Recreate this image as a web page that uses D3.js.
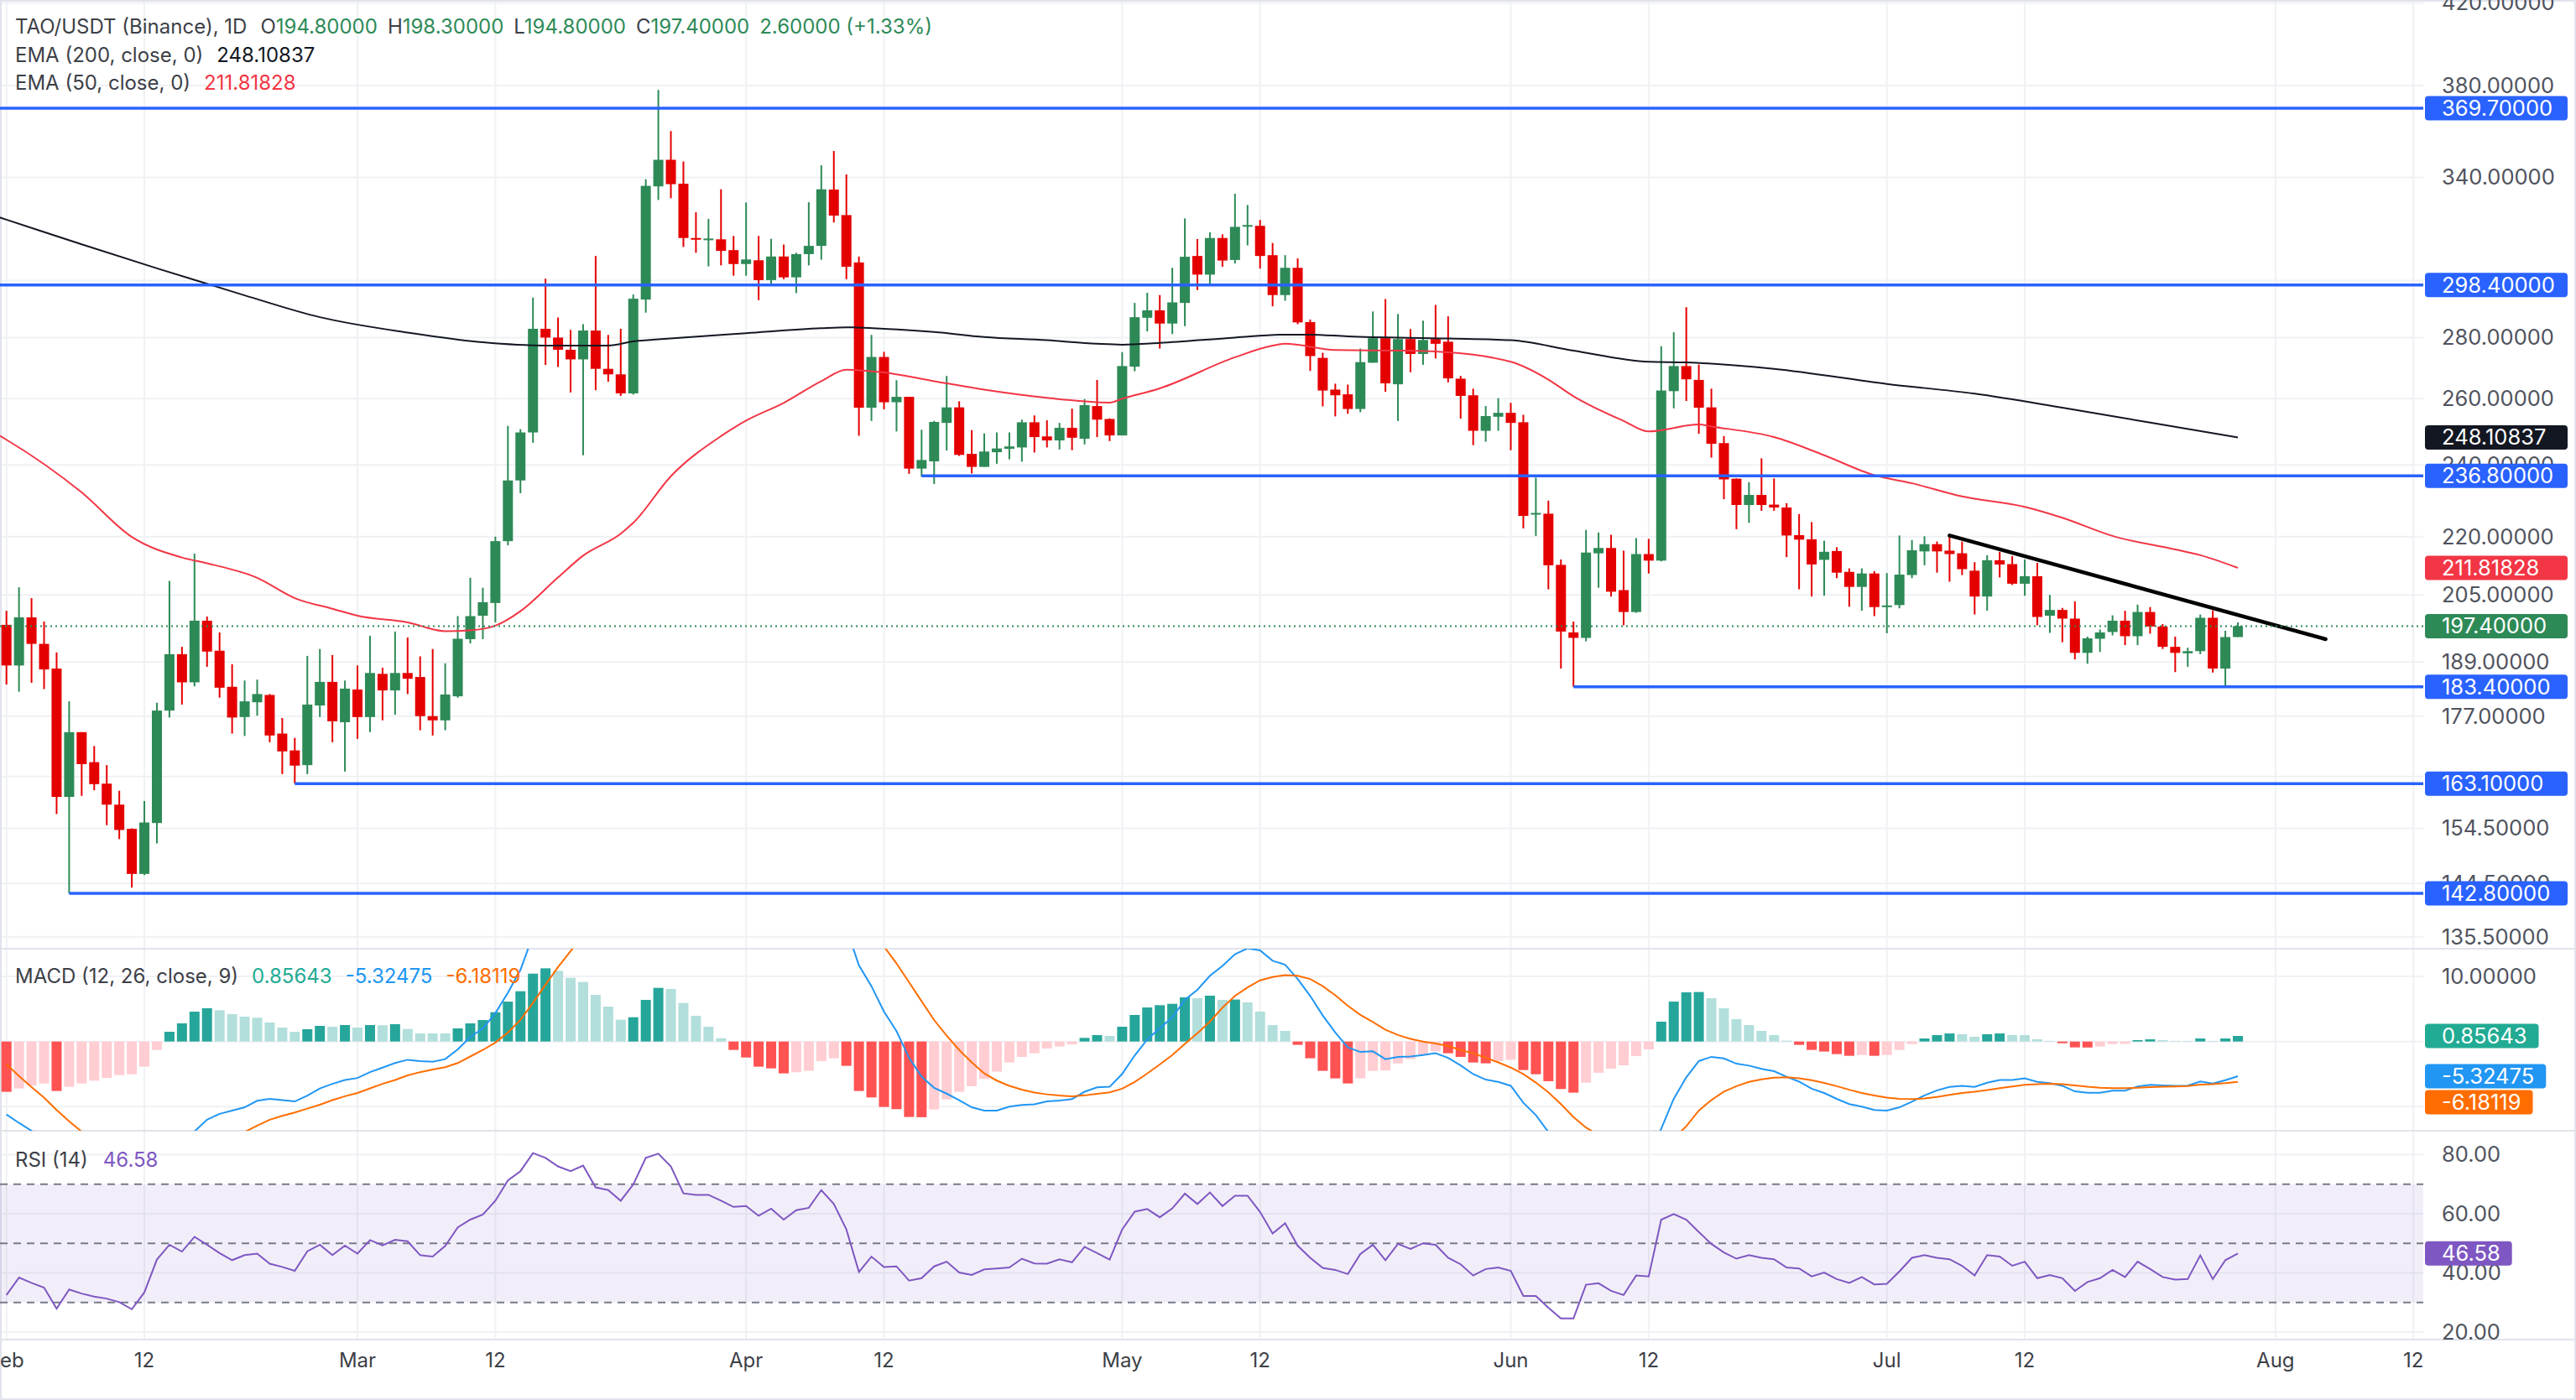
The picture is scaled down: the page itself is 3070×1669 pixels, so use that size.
<!DOCTYPE html>
<html>
<head>
<meta charset="utf-8">
<script src="https://d3js.org/d3.v7.min.js"></script>
<style>
  html, body { margin: 0; padding: 0; background: #fff; }
  svg { display: block; font-family: Inter, "Noto Sans", sans-serif; }
</style>
</head>
<body>
<svg id="chart" width="3070" height="1669"></svg>
<script>
// daily candles from 2025-02-01 to 2025-07-29
const firstDay = "2025-02-01";

const opens = [
  197.7,188.2,199.5,193.2,187.5,160.5,173.6,167.4,163.1,159.0,
  154.4,146.2,155.5,178.2,190.8,184.4,198.7,191.6,183.4,176.8,
  180.0,181.6,173.3,169.8,166.8,179.3,184.5,175.7,182.8,176.8,
  186.3,182.6,186.5,185.6,177.0,176.1,181.3,194.3,199.9,203.0,
  218.8,235.5,249.6,283.0,280.0,275.9,272.7,282.4,269.6,267.8,
  261.7,293.2,336.3,347.3,337.4,315.9,315.4,315.4,311.3,306.1,
  307.5,300.2,308.9,301.2,309.8,312.9,335.0,324.8,306.7,257.2,
  273.5,258.9,260.6,238.9,241.0,252.5,257.3,243.2,239.4,243.7,
  244.7,245.1,252.7,248.4,247.2,251.0,247.7,257.7,253.7,248.7,
  270.3,286.8,289.4,284.8,292.0,309.1,302.2,315.9,307.6,320.5,
  320.6,309.4,294.8,304.7,285.3,273.2,262.9,261.4,256.8,271.6,
  279.8,264.6,279.5,274.5,279.5,278.6,266.4,261.1,250.1,254.4,
  255.6,252.7,226.0,226.2,212.6,195.9,194.6,215.6,217.0,206.2,
  200.8,215.4,213.7,262.4,270.5,266.0,257.3,246.4,236.0,228.6,
  231.4,228.7,227.9,220.4,219.3,213.9,216.2,210.8,207.0,210.4,
  202.2,202.5,210.0,216.1,218.0,216.3,215.6,211.1,204.6,213.8,
  212.8,207.8,209.7,199.9,201.3,199.2,191.1,194.4,196.0,198.7,
  195.0,200.8,197.3,192.5,191.0,191.5,199.4,187.5,194.8
];
const highs = [
  201.1,206.9,204.2,198.5,191.2,180.2,173.6,170.7,166.8,161.7,
  154.5,159.7,179.9,208.5,192.5,215.5,199.7,195.9,188.5,184.8,
  185.0,181.8,176.6,172.4,190.4,192.0,190.6,184.8,188.2,195.1,
  187.7,196.1,194.7,190.3,192.0,188.7,199.8,209.3,206.8,220.0,
  251.6,250.6,293.9,300.7,286.9,282.6,284.6,309.1,280.9,283.0,
  295.0,339.2,378.0,359.6,346.6,325.9,323.3,335.1,316.7,329.8,
  316.7,315.6,313.4,310.3,329.9,345.0,351.0,341.2,308.9,280.9,
  275.2,265.9,260.6,250.4,253.1,267.3,259.2,250.3,249.3,249.6,
  249.6,253.5,254.8,253.3,252.5,256.9,259.9,266.0,253.9,275.1,
  292.0,295.6,294.8,304.7,323.5,315.5,318.1,317.3,333.3,328.8,
  322.9,314.0,309.4,308.2,286.2,274.9,264.8,264.5,276.3,289.0,
  293.4,288.1,282.9,285.8,291.3,287.3,267.3,263.2,257.7,260.2,
  258.7,255.0,236.3,229.8,214.0,198.5,221.8,221.1,220.5,216.3,
  219.6,219.4,277.1,281.8,290.5,271.0,263.2,248.5,236.1,235.0,
  241.9,236.1,229.1,226.1,223.9,218.9,217.2,211.7,211.7,211.0,
  210.5,220.3,219.1,220.1,218.7,220.3,218.7,213.3,215.1,216.0,
  214.9,214.0,213.1,205.0,201.8,203.4,194.9,196.6,200.0,201.1,
  202.6,202.0,197.9,194.9,192.3,200.2,201.2,196.3,198.3
];
const lows = [
  183.9,182.3,184.3,182.9,157.2,142.8,160.7,161.8,155.1,152.5,
  143.8,146.0,151.7,176.7,179.5,183.5,187.9,181.0,173.3,172.8,
  177.1,171.5,165.0,163.1,165.0,176.8,171.5,165.5,172.2,173.6,
  176.1,177.3,181.8,174.0,172.9,174.0,181.0,193.3,194.3,198.3,
  217.7,231.9,246.5,270.9,270.2,262.0,242.8,262.7,265.4,260.9,
  261.3,288.6,330.8,331.5,312.5,310.3,305.2,305.6,301.8,301.8,
  293.0,298.9,300.5,295.5,305.6,307.7,321.9,300.5,248.6,253.1,
  256.7,249.9,237.4,236.6,234.5,244.2,242.6,237.5,239.4,240.3,
  241.6,240.9,243.6,245.1,244.5,244.3,246.0,248.2,247.0,248.7,
  268.8,282.1,276.3,281.2,283.9,296.6,298.7,305.1,306.3,313.1,
  304.4,290.8,292.8,284.6,268.9,257.6,254.5,255.3,255.8,271.6,
  262.2,253.1,268.5,270.9,273.0,265.2,253.8,245.8,246.8,250.1,
  244.3,222.2,220.2,206.4,187.5,183.4,193.8,206.8,204.6,197.6,
  200.6,210.4,213.5,257.0,259.3,249.2,242.1,230.2,222.0,223.7,
  227.0,227.0,214.6,206.4,204.6,204.8,209.2,202.1,201.1,199.8,
  195.7,201.7,209.2,212.5,210.6,208.3,210.0,200.2,201.1,209.4,
  207.5,204.8,197.6,195.8,193.6,189.6,188.6,191.3,195.2,192.9,
  192.9,195.6,192.0,186.7,187.9,190.8,186.6,183.4,194.8
];
const closes = [
  188.2,199.5,193.2,187.3,160.5,173.6,167.0,163.0,159.0,154.2,
  146.2,155.6,178.2,190.8,184.4,198.7,191.4,183.2,176.7,180.2,
  181.8,172.9,169.6,166.7,179.5,184.5,175.9,183.0,176.8,186.5,
  182.6,186.5,185.2,177.0,176.1,181.7,194.4,199.8,203.2,218.8,
  235.5,249.6,283.0,280.0,275.9,272.7,282.4,269.6,267.8,261.7,
  293.5,336.5,347.3,337.2,315.9,315.5,315.7,311.0,306.1,307.8,
  300.2,308.9,301.2,309.8,312.9,335.1,324.6,305.1,257.2,273.5,
  258.9,260.6,238.9,241.4,252.8,257.3,242.9,239.4,243.9,244.8,
  245.4,252.7,248.2,247.2,251.0,248.0,258.0,253.5,248.7,270.5,
  287.0,289.4,284.8,292.2,308.8,302.2,315.9,307.4,320.2,320.9,
  309.1,294.8,304.7,285.2,273.8,262.6,261.1,256.8,271.8,279.8,
  264.9,279.5,274.5,279.2,277.9,266.5,260.9,250.1,254.6,255.6,
  252.5,225.6,226.4,212.5,196.1,194.6,215.8,217.0,205.8,200.8,
  215.4,213.7,262.6,270.5,266.2,257.2,246.2,235.8,228.6,231.4,
  228.6,227.9,220.3,219.2,212.7,216.0,210.6,207.0,210.4,202.0,
  202.4,210.1,216.4,218.0,216.1,215.4,211.5,204.6,213.8,212.7,
  207.8,209.7,199.6,201.3,199.2,191.1,194.5,195.9,198.7,195.0,
  200.8,197.3,192.5,191.1,191.5,199.4,187.5,194.8,197.4
];

// EMA lines at a set of dates
const ema200Dates = ["2025-01-31","2025-02-01","2025-02-07","2025-02-13","2025-02-20","2025-02-26","2025-03-05","2025-03-11","2025-03-16","2025-03-21","2025-03-23","2025-03-25","2025-04-01","2025-04-07","2025-04-09","2025-04-12","2025-04-16","2025-04-20","2025-04-25","2025-04-29","2025-05-01","2025-05-04","2025-05-10","2025-05-14","2025-05-16","2025-05-19","2025-05-27","2025-06-01","2025-06-06","2025-06-12","2025-06-15","2025-06-22","2025-07-01","2025-07-08","2025-07-15","2025-07-22","2025-07-29"];
const ema200Values = [324.6,323.0,313.5,304.5,294.7,287.0,281.7,278.4,277.3,277.3,278.7,279.4,281.5,283.2,283.5,283.0,281.9,280.2,279.1,277.9,277.6,278.2,280.0,281.0,281.0,280.4,279.7,279.1,275.6,271.9,271.7,269.6,264.7,261.6,257.2,252.6,248.10837];

const ema50Dates = ["2025-01-31","2025-02-01","2025-02-07","2025-02-11","2025-02-15","2025-02-17","2025-02-21","2025-02-24","2025-02-27","2025-03-01","2025-03-05","2025-03-08","2025-03-10","2025-03-12","2025-03-14","2025-03-17","2025-03-19","2025-03-22","2025-03-23","2025-03-26","2025-03-30","2025-04-01","2025-04-04","2025-04-07","2025-04-09","2025-04-12","2025-04-16","2025-04-20","2025-04-25","2025-04-30","2025-05-01","2025-05-04","2025-05-10","2025-05-13","2025-05-14","2025-05-18","2025-05-24","2025-05-26","2025-06-01","2025-06-04","2025-06-06","2025-06-10","2025-06-12","2025-06-16","2025-06-17","2025-06-22","2025-06-26","2025-06-30","2025-07-03","2025-07-07","2025-07-12","2025-07-15","2025-07-19","2025-07-24","2025-07-26","2025-07-29"];
const ema50Values = [249.6,247.4,232.1,219.9,214.5,213.0,209.3,204.2,201.6,199.9,198.3,196.2,196.4,197.5,201.0,209.4,215.0,220.8,223.7,236.7,248.5,253.2,258.7,265.6,269.3,268.4,265.6,262.9,260.3,258.8,260.0,263.3,273.4,277.3,277.9,275.8,275.6,275.3,271.9,266.1,260.8,253.1,249.9,252.0,251.4,248.2,242.8,237.0,234.7,231.0,228.1,225.1,220.2,216.6,215.1,211.81828];

// drawn support / resistance levels and where each one starts
const levelValues = [369.7, 298.4, 236.8, 183.4, 163.1, 142.8];
const levelStarts = [null, null, "2025-04-15", "2025-06-06", "2025-02-24", "2025-02-06"];

// falling trend line
const trendDates = ["2025-07-06", "2025-08-05"];
const trendValues = [220.3, 194.3];

// MACD (12, 26, 9)
const macdHist = [
  -7.72,-7.21,-6.74,-6.44,-7.59,-6.95,-6.44,-6.01,-5.58,-5.15,
  -5.02,-3.86,-1.29,1.50,2.79,4.59,5.11,4.80,4.20,3.82,
  3.65,2.92,2.14,1.50,1.89,2.40,2.27,2.53,2.14,2.53,
  2.50,2.66,1.93,1.24,1.24,1.24,2.02,2.79,3.30,4.50,
  6.13,7.72,10.42,11.24,10.85,9.78,9.14,7.16,5.36,3.35,
  3.73,6.39,8.24,8.07,5.92,3.95,2.27,0.51,-1.29,-2.45,
  -3.86,-4.12,-4.89,-4.72,-4.50,-3.00,-2.57,-3.73,-7.59,-8.58,
  -10.04,-10.38,-11.58,-11.62,-10.42,-8.88,-7.72,-6.86,-5.75,-4.63,
  -3.22,-2.36,-1.80,-1.07,-0.77,-0.43,0.56,0.99,0.86,2.27,
  4.08,5.23,5.58,5.79,6.78,6.65,7.04,6.39,6.45,6.01,
  4.59,2.53,1.63,-0.51,-2.57,-4.50,-5.66,-6.44,-5.66,-4.50,
  -4.45,-3.35,-2.70,-2.06,-1.50,-1.80,-2.36,-3.22,-3.35,-3.00,
  -2.80,-4.38,-5.02,-6.09,-7.29,-7.85,-6.31,-4.80,-4.16,-3.65,
  -2.23,-1.20,3.05,6.13,7.55,7.60,6.65,5.11,3.43,2.53,
  1.63,0.99,0.13,-0.51,-1.29,-1.54,-1.93,-2.19,-2.06,-2.19,
  -2.06,-1.29,-0.39,0.47,0.99,1.24,1.12,0.73,1.12,1.24,
  0.99,0.99,0.34,0.09,-0.26,-0.90,-0.92,-0.77,-0.39,-0.36,
  0.21,0.34,0.21,0.09,0.09,0.47,0.09,0.47,0.85643
];
const macdLine = [
  -11.2,-12.5,-13.7,-15.0,-18.1,-19.2,-20.3,-21.4,-22.3,-23.2,
  -24.3,-24.1,-21.9,-18.7,-16.7,-13.8,-12.0,-11.1,-10.6,-10.1,
  -9.1,-8.8,-9.0,-9.2,-8.3,-7.2,-6.5,-5.9,-5.6,-4.7,
  -4.0,-3.3,-2.8,-3.0,-3.1,-2.7,-1.2,0.7,2.0,4.35,
  7.5,11.0,16.3,20.0,22.3,23.7,25.3,25.1,24.7,23.5,
  24.8,29.1,33.0,34.8,34.2,33.2,32.1,30.4,28.3,26.5,
  24.2,22.9,20.9,19.9,19.0,19.7,19.5,17.4,11.7,8.5,
  4.6,1.6,-2.5,-5.4,-7.1,-8.0,-9.0,-10.1,-10.6,-10.6,
  -10.0,-9.75,-9.64,-9.18,-9.07,-8.84,-7.71,-7.03,-6.95,-4.97,
  -2.14,0.32,2.06,3.72,6.41,7.94,10.09,11.6,13.4,14.3,
  14.0,12.4,11.8,9.6,7.0,4.0,1.4,-0.9,-1.6,-1.5,
  -2.7,-2.35,-2.3,-2.06,-1.8,-2.5,-3.66,-5.0,-5.85,-6.2,
  -6.8,-9.4,-11.3,-13.9,-16.9,-19.4,-19.5,-19.2,-19.6,-20.0,
  -19.1,-18.4,-13.4,-8.8,-5.5,-3.0,-2.35,-2.6,-3.4,-3.7,
  -4.2,-4.56,-5.4,-6.16,-7.24,-7.9,-8.8,-9.6,-10.0,-10.5,
  -10.6,-10.1,-9.24,-8.28,-7.5,-6.96,-6.8,-6.97,-6.33,-5.9,
  -5.9,-5.66,-6.2,-6.4,-6.8,-7.65,-7.87,-7.87,-7.54,-7.54,
  -6.9,-6.66,-6.74,-6.8,-6.76,-6.13,-6.46,-5.93,-5.32475
];
const signalLine = [
  -3.5,-5.3,-6.99,-8.6,-10.5,-12.24,-13.85,-15.35,-16.75,-18.04,
  -19.29,-20.26,-20.58,-20.21,-19.51,-18.36,-17.08,-15.88,-14.83,-13.88,
  -12.9,-12.0,-11.4,-10.9,-10.3,-9.7,-9.0,-8.4,-7.9,-7.2,
  -6.5,-5.9,-5.2,-4.7,-4.3,-3.95,-3.3,-2.3,-1.3,-0.15,
  1.38,3.31,5.92,8.73,11.44,13.89,16.17,17.96,19.30,20.14,
  21.07,22.67,24.73,26.75,28.23,29.22,29.79,29.92,29.60,28.99,
  28.02,26.99,25.77,24.59,23.46,22.71,22.07,21.14,19.24,17.10,
  14.59,11.99,9.10,6.19,3.3,0.9,-1.3,-3.2,-4.9,-6.0,
  -6.8,-7.39,-7.84,-8.11,-8.30,-8.41,-8.27,-8.02,-7.81,-7.24,
  -6.22,-4.91,-3.52,-2.07,-0.37,1.29,3.05,5.2,7.0,8.3,
  9.4,9.9,10.2,10.1,9.6,8.5,7.1,5.5,4.1,3.0,
  1.8,1.0,0.4,0.0,-0.3,-0.7,-1.3,-1.8,-2.5,-3.2,
  -4.0,-5.0,-6.3,-7.8,-9.6,-11.6,-13.2,-14.4,-15.4,-16.3,
  -16.9,-17.2,-16.4,-14.9,-13.0,-10.6,-9.0,-7.7,-6.85,-6.2,
  -5.8,-5.55,-5.5,-5.65,-5.95,-6.35,-6.85,-7.4,-7.9,-8.3,
  -8.6,-8.8,-8.85,-8.75,-8.5,-8.2,-7.9,-7.7,-7.45,-7.15,
  -6.9,-6.65,-6.55,-6.5,-6.55,-6.75,-6.95,-7.1,-7.15,-7.15,
  -7.1,-7.0,-6.95,-6.9,-6.85,-6.6,-6.55,-6.4,-6.18119
];

// RSI (14)
const rsiValues = [
  32.5,38.4,36.6,35.0,27.9,34.4,33.0,32.0,31.3,30.1,
  27.7,33.4,44.5,49.5,47.2,52.2,49.5,46.7,44.3,46.0,
  46.5,43.1,42.0,40.7,47.3,49.5,46.0,49.2,46.5,51.1,
  49.3,51.2,50.7,46.0,45.5,49.1,55.4,58.0,59.7,64.4,
  71.3,74.4,80.5,78.9,76.0,74.4,76.3,68.9,68.0,64.4,
  69.9,78.9,80.3,76.0,66.9,66.4,66.4,64.4,62.3,62.6,
  59.3,61.7,58.0,61.2,62.0,68.0,63.3,54.7,40.3,45.5,
  42.0,42.2,37.4,38.2,42.2,43.8,40.1,39.3,41.2,41.5,
  41.8,44.8,43.2,43.1,44.6,43.6,48.8,46.7,44.5,54.7,
  60.7,61.6,58.8,61.8,66.8,63.3,67.2,62.6,66.1,66.1,
  60.6,53.3,56.8,49.2,45.1,41.7,41.0,39.6,46.4,49.5,
  44.3,49.8,48.1,50.0,49.5,45.1,42.9,39.1,41.3,41.8,
  40.7,32.2,32.2,28.2,24.6,24.6,36.0,36.5,33.9,32.5,
  39.1,38.8,58.0,59.9,58.0,53.8,49.8,46.9,44.8,46.0,
  45.1,44.6,41.8,41.5,38.8,40.1,37.9,36.6,38.6,36.1,
  36.3,40.5,45.1,46.0,45.1,44.6,42.4,39.1,46.0,45.5,
  42.4,43.8,38.2,39.3,38.2,33.9,36.9,38.2,41.0,38.6,
  43.8,41.3,38.6,37.7,37.9,45.9,37.9,44.3,46.58
];

// axis ticks
const priceGrid = [420, 380, 340, 300, 280, 260, 240, 220, 205, 189, 177, 164.5, 154.5, 144.5, 135.5];
const priceTickLabels = [420, 380, 340, 280, 260, 240, 220, 205, 189, 177, 154.5, 144.5, 135.5];
const macdGrid = [10, 0, -10];
const macdTickLabels = [10];
const rsiGrid = [80, 60, 40, 20];
const rsiBands = [70, 50, 30];
const dateTicks = ["2025-02-01","2025-02-12","2025-03-01","2025-03-12","2025-04-01","2025-04-12","2025-05-01","2025-05-12","2025-06-01","2025-06-12","2025-07-01","2025-07-12","2025-08-01","2025-08-12"];
const dateTickLabels = ["Feb","12","Mar","12","Apr","12","May","12","Jun","12","Jul","12","Aug","12"];

// ---------------------------------------------------------------
const parse = d3.utcParse("%Y-%m-%d");
const start = parse(firstDay);
const candles = closes.map((c, i) => ({
  date: d3.utcDay.offset(start, i),
  o: opens[i], h: highs[i], l: lows[i], c: c
}));

const svg = d3.select("#chart");
const W = 3070, H = 1669;
const plotRight = 2888;
const axisX = 2890;

const GREEN = "#2d8a57", RED = "#e50000", BLUE = "#2962ff";
const GRID = "#f0f1f4";
const TEXT = "#3d3f47";

const x = d3.scaleUtc()
  .domain([parse("2025-02-01"), parse("2025-08-12")])
  .range([7.7, 2876.2]);
const y = d3.scaleLog().domain([142.8, 369.7]).range([1065, 129]);
const yMacd = d3.scaleLinear().domain([-10, 10]).range([1319.3, 1164]);
const yRsi = d3.scaleLinear().domain([30, 70]).range([1552.7, 1411.7]);

const mainTop = 0, mainBottom = 1131, macdBottom = 1348, rsiBottom = 1597;

svg.append("rect").attr("width", W).attr("height", H).attr("fill", "#fff");

const defs = svg.append("defs");
function clip(id, y0, y1) {
  defs.append("clipPath").attr("id", id)
    .append("rect").attr("x", 0).attr("y", y0).attr("width", plotRight).attr("height", y1 - y0);
}
clip("clipMain", mainTop, mainBottom);
clip("clipMacd", mainBottom, macdBottom);
clip("clipRsi", macdBottom, rsiBottom);

// grid
const grid = svg.append("g").attr("stroke", GRID).attr("stroke-width", 2);
grid.selectAll(".vg").data(dateTicks).join("line")
  .attr("x1", d => x(parse(d))).attr("x2", d => x(parse(d)))
  .attr("y1", 0).attr("y2", rsiBottom);
grid.selectAll(".pg").data(priceGrid).join("line")
  .attr("x1", 0).attr("x2", plotRight).attr("y1", d => y(d)).attr("y2", d => y(d));
grid.selectAll(".mg").data(macdGrid).join("line")
  .attr("x1", 0).attr("x2", plotRight).attr("y1", d => yMacd(d)).attr("y2", d => yMacd(d));
grid.selectAll(".rg").data(rsiGrid).join("line")
  .attr("x1", 0).attr("x2", plotRight).attr("y1", d => yRsi(d)).attr("y2", d => yRsi(d));

// panel separators and frame
svg.append("g").attr("stroke", "#e0e3eb").attr("stroke-width", 2)
  .selectAll("line").data([mainBottom, macdBottom, rsiBottom]).join("line")
  .attr("x1", 0).attr("x2", W).attr("y1", d => d).attr("y2", d => d);
svg.append("rect").attr("x", 1).attr("y", 1).attr("width", W - 2).attr("height", H - 2)
  .attr("fill", "none").attr("stroke", "#e0e3eb").attr("stroke-width", 2);

// ---------------- main panel
const main = svg.append("g").attr("clip-path", "url(#clipMain)");

const cw = 12;
const cg = main.append("g").selectAll("g").data(candles).join("g")
  .attr("fill", d => d.c >= d.o ? GREEN : RED);
cg.append("rect")
  .attr("x", d => x(d.date) - 1).attr("width", 2)
  .attr("y", d => y(d.h)).attr("height", d => Math.max(1, y(d.l) - y(d.h)));
cg.append("rect")
  .attr("x", d => x(d.date) - cw / 2).attr("width", cw)
  .attr("y", d => y(Math.max(d.o, d.c)))
  .attr("height", d => Math.max(2, Math.abs(y(d.o) - y(d.c))));

const emaLine = d3.line().x(d => x(d[0])).y(d => y(d[1])).curve(d3.curveMonotoneX);
main.append("path")
  .datum(ema200Dates.map((d, i) => [parse(d), ema200Values[i]]))
  .attr("d", emaLine).attr("fill", "none").attr("stroke", "#131722").attr("stroke-width", 2);
main.append("path")
  .datum(ema50Dates.map((d, i) => [parse(d), ema50Values[i]]))
  .attr("d", emaLine).attr("fill", "none").attr("stroke", "#f23645").attr("stroke-width", 2);

main.append("g").selectAll("line").data(levelValues).join("line")
  .attr("x1", (d, i) => levelStarts[i] ? x(parse(levelStarts[i])) : 0)
  .attr("x2", plotRight)
  .attr("y1", d => y(d)).attr("y2", d => y(d))
  .attr("stroke", BLUE).attr("stroke-width", 3.5);

main.append("line")
  .attr("x1", x(parse(trendDates[0]))).attr("y1", y(trendValues[0]))
  .attr("x2", x(parse(trendDates[1]))).attr("y2", y(trendValues[1]))
  .attr("stroke", "#000").attr("stroke-width", 4.5).attr("stroke-linecap", "round");

const last = candles[candles.length - 1];
main.append("line")
  .attr("x1", 0).attr("x2", plotRight).attr("y1", y(last.c)).attr("y2", y(last.c))
  .attr("stroke", GREEN).attr("stroke-width", 2).attr("stroke-dasharray", "2 4");

// ---------------- MACD panel
const macdG = svg.append("g").attr("clip-path", "url(#clipMacd)");
const bw = 12;
macdG.append("g").selectAll("rect").data(macdHist).join("rect")
  .attr("x", (d, i) => x(candles[i].date) - bw / 2).attr("width", bw)
  .attr("y", d => Math.min(yMacd(d), yMacd(0)))
  .attr("height", d => Math.abs(yMacd(d) - yMacd(0)))
  .attr("fill", (d, i) => {
    const prev = i > 0 ? macdHist[i - 1] : d;
    if (d >= 0) return prev < d ? "#26a69a" : "#b2dfdb";
    return prev < d ? "#ffcdd2" : "#ff5252";
  });
const mline = d3.line().x((d, i) => x(candles[i].date)).y(d => yMacd(d));
macdG.append("path").datum(macdLine).attr("d", mline)
  .attr("fill", "none").attr("stroke", "#2196f3").attr("stroke-width", 2);
macdG.append("path").datum(signalLine).attr("d", mline)
  .attr("fill", "none").attr("stroke", "#ff6d00").attr("stroke-width", 2);

// ---------------- RSI panel
const rsiG = svg.append("g").attr("clip-path", "url(#clipRsi)");
rsiG.append("rect").attr("x", 0).attr("width", plotRight)
  .attr("y", yRsi(70)).attr("height", yRsi(30) - yRsi(70))
  .attr("fill", "rgba(126,87,194,0.1)");
rsiG.append("g").selectAll("line").data(rsiBands).join("line")
  .attr("x1", 0).attr("x2", plotRight).attr("y1", d => yRsi(d)).attr("y2", d => yRsi(d))
  .attr("stroke", "#787b86").attr("stroke-width", 2).attr("stroke-dasharray", "9 7");
rsiG.append("path").datum(rsiValues)
  .attr("d", d3.line().x((d, i) => x(candles[i].date)).y(d => yRsi(d)))
  .attr("fill", "none").attr("stroke", "#7e57c2").attr("stroke-width", 2);

// ---------------- axes
const fs = 25.5;
const axisText = svg.append("g").attr("font-size", fs).attr("fill", "#50535e");
axisText.selectAll(".pt").data(priceTickLabels).join("text")
  .attr("x", axisX + 20).attr("y", d => y(d)).attr("dy", "0.35em").text(d => d.toFixed(5));
axisText.selectAll(".mt").data(macdTickLabels).join("text")
  .attr("x", axisX + 20).attr("y", d => yMacd(d)).attr("dy", "0.35em").text(d => d.toFixed(5));
axisText.selectAll(".rt").data(rsiGrid).join("text")
  .attr("x", axisX + 20).attr("y", d => yRsi(d)).attr("dy", "0.35em").text(d => d.toFixed(2));
axisText.selectAll(".xt").data(dateTicks).join("text")
  .attr("x", d => x(parse(d))).attr("y", 1622).attr("dy", "0.35em")
  .attr("text-anchor", "middle").attr("fill", TEXT).attr("font-size", 24)
  .text((d, i) => dateTickLabels[i]);

function tag(yy, label, fill, fixedW) {
  const g = svg.append("g");
  const t = g.append("text").attr("x", axisX + 20).attr("y", yy).attr("dy", "0.35em")
    .attr("font-size", fs).attr("fill", "#fff").text(label);
  const w = fixedW || t.node().getComputedTextLength() + 34;
  g.insert("rect", "text").attr("x", axisX).attr("y", yy - 14.5).attr("width", w).attr("height", 29)
    .attr("rx", 4).attr("fill", fill);
}
const lastEma200 = ema200Values[ema200Values.length - 1];
const lastEma50 = ema50Values[ema50Values.length - 1];
levelValues.forEach(v => tag(y(v), v.toFixed(5), BLUE, 170));
tag(y(lastEma200), lastEma200.toFixed(5), "#131722", 170);
tag(y(lastEma50), lastEma50.toFixed(5), "#f23645", 170);
tag(y(last.c), last.c.toFixed(5), GREEN, 170);

const lastHist = macdHist[macdHist.length - 1];
const lastMacd = macdLine[macdLine.length - 1];
const lastSignal = signalLine[signalLine.length - 1];
tag(yMacd(lastHist), lastHist.toFixed(5), "#22ab94");
const yM = yMacd(lastMacd);
tag(yM, lastMacd.toFixed(5), "#2196f3");
tag(Math.max(yMacd(lastSignal), yM + 31), lastSignal.toFixed(5), "#ff6d00");
const lastRsi = rsiValues[rsiValues.length - 1];
tag(yRsi(lastRsi), lastRsi.toFixed(2), "#7e57c2");

// ---------------- legends
const lf = 24;
const prev = candles[candles.length - 2];
const chg = last.c - prev.c;
const l1 = svg.append("text").attr("x", 18).attr("y", 40).attr("font-size", lf).attr("fill", TEXT);
l1.append("tspan").text("TAO/USDT (Binance), 1D");
[["O", last.o], ["H", last.h], ["L", last.l], ["C", last.c]].forEach(([k, v], i) => {
  l1.append("tspan").attr("dx", i === 0 ? 16 : 12).text(k);
  l1.append("tspan").attr("fill", GREEN).text(v.toFixed(5));
});
l1.append("tspan").attr("dx", 12).attr("fill", GREEN)
  .text(chg.toFixed(5) + " (+" + (chg / prev.c * 100).toFixed(2) + "%)");

const l2 = svg.append("text").attr("x", 18).attr("y", 74).attr("font-size", lf).attr("fill", TEXT);
l2.append("tspan").text("EMA (200, close, 0)");
l2.append("tspan").attr("dx", 16).attr("fill", "#131722").text(lastEma200.toFixed(5));

const l3 = svg.append("text").attr("x", 18).attr("y", 107).attr("font-size", lf).attr("fill", TEXT);
l3.append("tspan").text("EMA (50, close, 0)");
l3.append("tspan").attr("dx", 16).attr("fill", "#f23645").text(lastEma50.toFixed(5));

const l4 = svg.append("text").attr("x", 18).attr("y", 1172).attr("font-size", lf).attr("fill", TEXT);
l4.append("tspan").text("MACD (12, 26, close, 9)");
l4.append("tspan").attr("dx", 16).attr("fill", "#22ab94").text(lastHist.toFixed(5));
l4.append("tspan").attr("dx", 16).attr("fill", "#2196f3").text(lastMacd.toFixed(5));
l4.append("tspan").attr("dx", 16).attr("fill", "#ff6d00").text(lastSignal.toFixed(5));

const l5 = svg.append("text").attr("x", 18).attr("y", 1391).attr("font-size", lf).attr("fill", TEXT);
l5.append("tspan").text("RSI (14)");
l5.append("tspan").attr("dx", 18).attr("fill", "#7e57c2").text(lastRsi.toFixed(2));
</script>
</body>
</html>
